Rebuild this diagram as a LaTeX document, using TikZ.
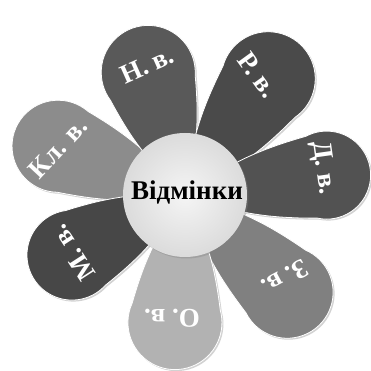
\documentclass[tikz,border=0pt]{standalone}
\usepackage{fontspec}
\setmainfont{Liberation Serif}
\usetikzlibrary{shadows}
\definecolor{pN}{gray}{0.35}
\definecolor{pR}{gray}{0.29}
\definecolor{pD}{gray}{0.32}
\definecolor{pZ}{gray}{0.50}
\definecolor{pO}{gray}{0.70}
\definecolor{pM}{gray}{0.28}
\definecolor{pK}{gray}{0.55}
\newcommand\flowerpetal[4]{%
  \begin{scope}[shift={(185,176)}, rotate=#1]
    \fill[#4, draw=white, line width=0.8pt,
      drop shadow={shadow xshift=1.5pt, shadow yshift=-1.5pt, opacity=.35}]
      (0,0) to[bend right=10] ({#2-0.342*#3},{-0.940*#3})
      arc[start angle=-110, end angle=110, radius=#3]
      to[bend right=10] cycle;
  \end{scope}}
\tikzset{lbl/.style={text=white, font=\fontsize{27}{27}\selectfont\bfseries, inner sep=0pt}}
\begin{document}
\begin{tikzpicture}[x=1pt,y=1pt]
\useasboundingbox (0,0) rectangle (371,371);
\fill[white] (0,0) rectangle (371,371);
\flowerpetal{159}{136}{46}{pK}
\flowerpetal{106.7}{128}{47}{pN}
\flowerpetal{54.4}{143}{47}{pR}
\flowerpetal{8}{143}{44}{pD}
\flowerpetal{-43.6}{141}{46}{pZ}
\flowerpetal{208}{128}{45}{pM}
\flowerpetal{-94.5}{128}{47}{pO}
\node[circle, minimum size=124pt, inner sep=0pt, shading=radial,
  inner color=gray!8, outer color=gray!28,
  drop shadow={shadow xshift=1.5pt, shadow yshift=-1.5pt, opacity=.35}] (c) at (185,176) {};
\node[font=\fontsize{27}{27}\selectfont\bfseries, inner sep=0pt] (t) at (187,179) {Відмінки};
\node[lbl, rotate=24] (n) at (147,306) {Н. в.};
\node[lbl, rotate=-54] (r) at (258,296) {Р. в.};
\node[lbl, rotate=-82] (d) at (323,203) {Д. в.};
\node[lbl, rotate=208] (z) at (285,93) {З. в.};
\node[lbl, rotate=180] (o) at (172,53) {О. в.};
\node[lbl, rotate=123] (m) at (73,118) {М. в.};
\node[lbl, rotate=47] (k) at (58,223) {Кл. в.};
\end{tikzpicture}
\end{document}
